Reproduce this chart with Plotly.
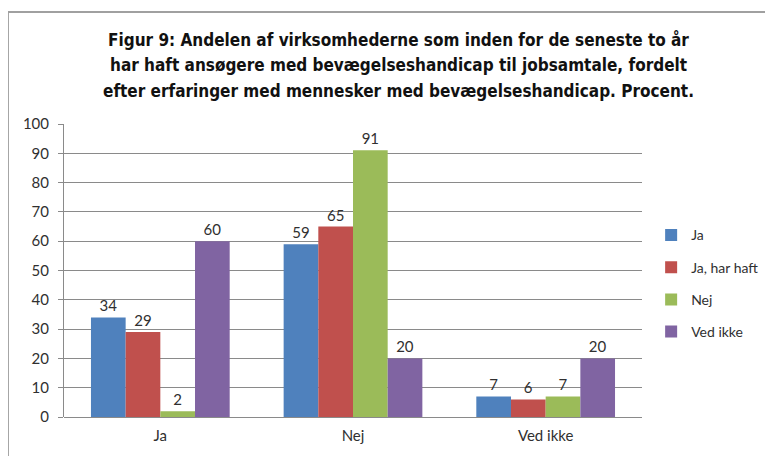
import plotly.graph_objects as go

categories = ["Ja", "Nej", "Ved ikke"]
series_names = ["Ja", "Ja, har haft", "Nej", "Ved ikke"]
ja = [34, 59, 7]
ja_har_haft = [29, 65, 6]
nej = [2, 91, 7]
ved_ikke = [60, 20, 20]
y_ticks = [0, 10, 20, 30, 40, 50, 60, 70, 80, 90, 100]
title_lines = [
    "Figur 9: Andelen af virksomhederne som inden for de seneste to år",
    "har haft ansøgere med bevægelseshandicap til jobsamtale, fordelt",
    "efter erfaringer med mennesker med bevægelseshandicap. Procent.",
]

colors = ["#4F81BD", "#C0504D", "#9BBB59", "#8064A2"]
values = [ja, ja_har_haft, nej, ved_ikke]
label_font = dict(family="Lato, Open Sans, sans-serif", size=15, color="#303030")

fig = go.Figure()
for name, vals, color in zip(series_names, values, colors):
    fig.add_trace(go.Bar(
        x=categories,
        y=vals,
        name=name,
        legendgroup=name,
        marker=dict(color=color, line=dict(width=0)),
        text=vals,
        textposition="outside",
        textfont=label_font,
        cliponaxis=False,
    ))

# the page body adds an 8px offset, so margins are shifted back by 8px
fig.update_layout(
    width=773,
    height=456,
    margin=dict(l=56, r=139, t=116, b=47, autoexpand=False),
    plot_bgcolor="white",
    paper_bgcolor="white",
    barmode="group",
    bargap=0.28,
    bargroupgap=0,
    showlegend=True,
    legend=dict(
        xref="container", yref="container",
        x=0.832, y=0.396, xanchor="left", yanchor="middle",
        font=dict(family="Lato, Open Sans, sans-serif", size=14, color="#303030"),
        tracegroupgap=11,
        itemwidth=30,
    ),
    font=dict(family="Lato, Open Sans, sans-serif"),
)

for i, line in enumerate(title_lines):
    fig.add_annotation(
        text="<b>" + line + "</b>",
        xref="paper", yref="paper",
        x=0.578, y=1.29 - i * 0.0889,
        xanchor="center", yanchor="middle",
        showarrow=False,
        font=dict(family="DejaVu Sans Condensed, DejaVu Sans, sans-serif",
                  size=17, color="#111111"),
    )

fig.update_xaxes(
    showgrid=False,
    showline=False,
    ticks="",
    ticklabelstandoff=8,
    tickfont=label_font,
)
fig.update_yaxes(
    range=[0, 100],
    tickvals=y_ticks,
    showgrid=True,
    gridcolor="#8a8a8a",
    gridwidth=1,
    zeroline=True,
    zerolinecolor="#8a8a8a",
    zerolinewidth=1,
    showline=True,
    linecolor="#8a8a8a",
    linewidth=1,
    ticks="outside",
    ticklen=5,
    tickcolor="#8a8a8a",
    ticklabelstandoff=6,
    tickfont=label_font,
)

# outer chart frame (continues past the right and bottom edges)
fig.add_shape(
    type="rect", xref="paper", yref="paper",
    x0=-0.097, x1=1.4, y0=-0.3, y1=1.382,
    line=dict(color="#a0a0a0", width=2),
    layer="below",
)

fig.write_html("out.html")
